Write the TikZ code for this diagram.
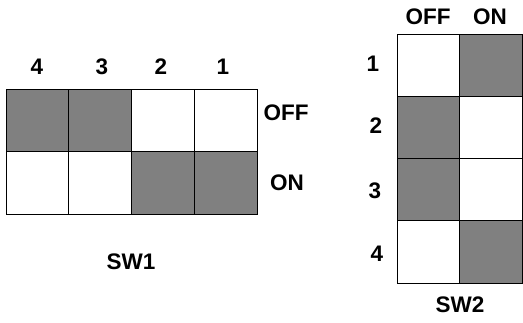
\documentclass[tikz,border=0pt]{standalone}
\usepackage{fontspec}
\setmainfont{Liberation Sans}
\usetikzlibrary{positioning}
\tikzstyle{cell}=[draw,line width=0.9pt,minimum width=62.75pt,minimum height=62.5pt,inner sep=0pt]
\tikzstyle{swdark}=[cell,fill=black!50]
\tikzstyle{swlight}=[cell,fill=white]
\tikzstyle{lbl}=[font=\bfseries\fontsize{22.5}{26}\selectfont,inner sep=0pt]

\begin{document}
\begin{tikzpicture}[x=1pt,y=-1pt]
\useasboundingbox (0,0) rectangle (523,322);

% SW1: the switch grid, positions OFF (top) and ON (bottom)
\foreach \pos / \name / \st in {{(37.4,120.2)/offa/swdark},{(100.1,120.2)/offb/swdark},{(162.9,120.2)/offc/swlight},{(225.6,120.2)/offd/swlight},{(37.4,182.7)/ona/swlight},{(100.1,182.7)/onb/swlight},{(162.9,182.7)/onc/swdark},{(225.6,182.7)/ond/swdark}}
\node[\st] (\name) at \pos {};

% SW1 labels
\foreach \pos / \name / \txt in {{(37,67)/ta/4},{(102,67)/tb/3},{(161,67)/tc/2},{(223,67)/td/1},{(286,113)/roff/OFF},{(287,183)/ron/ON},{(131,262)/swa/SW1}}
\node[lbl] (\name) at \pos {\txt};

% SW2: the switch grid, columns OFF and ON
\foreach \pos / \name / \st in {{(428.5,65.1)/ea/swlight},{(491,65.1)/na/swdark},{(428.5,127.4)/eb/swdark},{(491,127.4)/nb/swlight},{(428.5,189.6)/ec/swdark},{(491,189.6)/nc/swlight},{(428.5,251.9)/ed/swlight},{(491,251.9)/nd/swdark}}
\node[\st,minimum width=62.5pt,minimum height=62.25pt] (\name) at \pos {};

% SW2 labels
\foreach \pos / \name / \txt in {{(428,17)/coff/OFF},{(490,17)/con/ON},{(373,64)/ra/1},{(376,126)/rb/2},{(375,191)/rc/3},{(377,254)/rd/4},{(460,305)/swb/SW2}}
\node[lbl] (\name) at \pos {\txt};

\end{tikzpicture}
\end{document}
